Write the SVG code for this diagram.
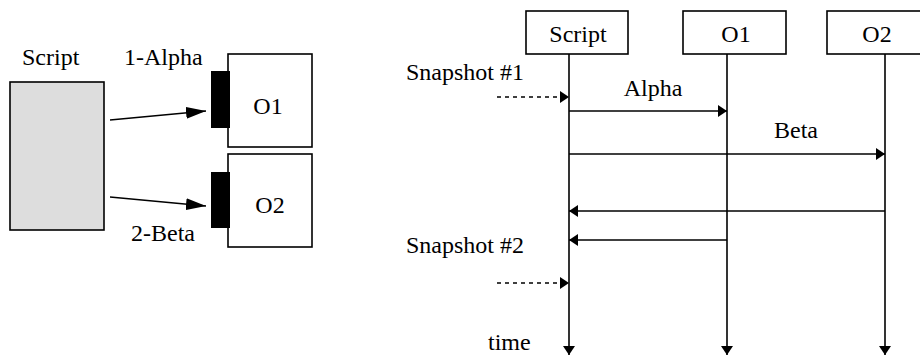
<svg xmlns="http://www.w3.org/2000/svg" width="920" height="356" viewBox="0 0 920 356">
  <style>
    .box { fill: #fff; stroke: #000; stroke-width: 1.6; }
    .tab { fill: #000; }
    .line { stroke: #000; stroke-width: 1.6; fill: none; }
    .dash { stroke: #000; stroke-width: 1.6; fill: none; stroke-dasharray: 4 4; }
  </style>
  <defs>
    <marker id="bigArrow" viewBox="0 0 20 12" refX="20" refY="6" markerWidth="20" markerHeight="12" markerUnits="userSpaceOnUse" orient="auto">
      <path d="M0,0 L20,6 L0,12 Z" fill="#000"/>
    </marker>
    <marker id="arrow" viewBox="0 0 9 12" refX="9" refY="6" markerWidth="9" markerHeight="12" markerUnits="userSpaceOnUse" orient="auto">
      <path d="M0,0 L9,6 L0,12 Z" fill="#000"/>
    </marker>
  </defs>

  <!-- Object view -->
  <g id="obj-script">
    <text x="22" y="65" style="font-family:'Liberation Serif', serif !important; font-size:24px">Script</text>
    <rect x="10" y="82" width="94" height="148" fill="#dddddd" stroke="#000" stroke-width="1.6"/>
  </g>
  <g id="obj-o1">
    <rect class="box" x="228" y="54" width="84" height="93"/>
    <rect class="tab" x="211" y="71" width="19" height="57"/>
    <text x="268" y="114" text-anchor="middle" style="font-family:'Liberation Serif', serif !important; font-size:24px">O1</text>
  </g>
  <g id="obj-o2">
    <rect class="box" x="228" y="154" width="84" height="93"/>
    <rect class="tab" x="211" y="172" width="19" height="56"/>
    <text x="270" y="213" text-anchor="middle" style="font-family:'Liberation Serif', serif !important; font-size:24px">O2</text>
  </g>
  <g id="obj-connectors">
    <line class="line" x1="110" y1="120" x2="206" y2="111" marker-end="url(#bigArrow)"/>
    <line class="line" x1="110" y1="197" x2="206" y2="206" marker-end="url(#bigArrow)"/>
    <text x="124" y="65" style="font-family:'Liberation Serif', serif !important; font-size:24px">1-Alpha</text>
    <text x="131" y="241" style="font-family:'Liberation Serif', serif !important; font-size:24px">2-Beta</text>
  </g>

  <!-- Sequence view -->
  <g id="seq-script">
    <rect class="box" x="526" y="11" width="102" height="43"/>
    <text x="578" y="42" text-anchor="middle" style="font-family:'Liberation Serif', serif !important; font-size:24px">Script</text>
  </g>
  <g id="seq-o1">
    <rect class="box" x="683" y="11" width="103" height="43"/>
    <text x="736" y="42" text-anchor="middle" style="font-family:'Liberation Serif', serif !important; font-size:24px">O1</text>
  </g>
  <g id="seq-o2">
    <rect class="box" x="827" y="11" width="100" height="43"/>
    <text x="877" y="42" text-anchor="middle" style="font-family:'Liberation Serif', serif !important; font-size:24px">O2</text>
  </g>
  <g id="seq-connectors">
    <!-- lifelines -->
    <line class="line" x1="569" y1="54" x2="569" y2="355" marker-end="url(#arrow)"/>
    <line class="line" x1="727" y1="54" x2="727" y2="355" marker-end="url(#arrow)"/>
    <line class="line" x1="885" y1="54" x2="885" y2="355" marker-end="url(#arrow)"/>
    <!-- messages -->
    <line class="line" x1="569" y1="111" x2="727" y2="111" marker-end="url(#arrow)"/>
    <line class="line" x1="569" y1="154" x2="885" y2="154" marker-end="url(#arrow)"/>
    <line class="line" x1="885" y1="211" x2="569" y2="211" marker-end="url(#arrow)"/>
    <line class="line" x1="727" y1="240" x2="569" y2="240" marker-end="url(#arrow)"/>
    <!-- snapshots -->
    <line class="dash" x1="497" y1="97" x2="569" y2="97" marker-end="url(#arrow)"/>
    <line class="dash" x1="497" y1="283" x2="569" y2="283" marker-end="url(#arrow)"/>
  </g>
  <g id="seq-labels">
    <text x="406" y="80" style="font-family:'Liberation Serif', serif !important; font-size:24px">Snapshot #1</text>
    <text x="653" y="96" text-anchor="middle" style="font-family:'Liberation Serif', serif !important; font-size:24px">Alpha</text>
    <text x="796" y="138" text-anchor="middle" style="font-family:'Liberation Serif', serif !important; font-size:24px">Beta</text>
    <text x="406" y="253" style="font-family:'Liberation Serif', serif !important; font-size:24px">Snapshot #2</text>
    <text x="488" y="350" style="font-family:'Liberation Serif', serif !important; font-size:24px">time</text>
  </g>
</svg>
